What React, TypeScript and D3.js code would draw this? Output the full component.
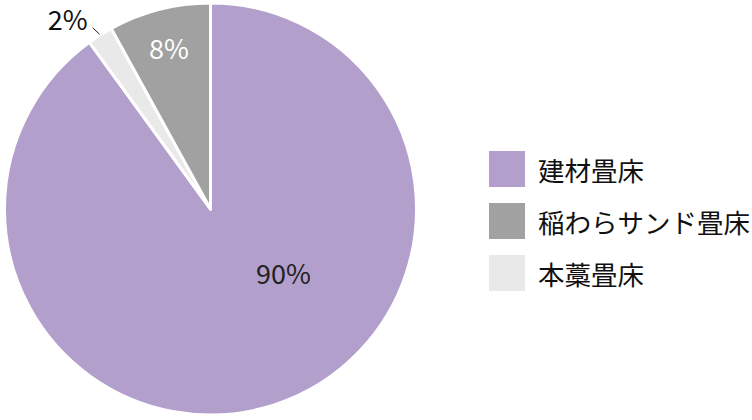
import React from "react";
import * as d3 from "d3";

const categories = ["建材畳床", "稲わらサンド畳床", "本藁畳床"];
const values = [90, 8, 2];
const colors = ["#b39fcb", "#a0a1a0", "#e8e9e8"];
// pie draw order (clockwise from top)
const order = [0, 2, 1];

export default function App() {
  const W = 752, H = 420;
  const cx = 210.5, cy = 209, R = 206;
  const font = "'Noto Sans CJK JP', 'Noto Sans', sans-serif";
  const data = order.map((i) => ({ name: categories[i], value: values[i], color: colors[i] }));
  const pie = d3.pie<any>().value((d) => d.value).sort(null);
  const arcs = pie(data);
  const arc = d3.arc<any>().innerRadius(0).outerRadius(R);
  const mid = (a: any) => (a.startAngle + a.endAngle) / 2;
  const pt = (ang: number, r: number) => [Math.sin(ang) * r, -Math.cos(ang) * r];

  return (
    <svg width={W} height={H} style={{ position: "absolute", left: 0, top: 0 }} fontFamily={font}>
      <rect width={W} height={H} fill="#fff" />
      <g transform={`translate(${cx},${cy})`}>
        {arcs.map((a, i) => (
          <path key={i} d={arc(a) as string} fill={a.data.color} stroke="#fff" strokeWidth={3} strokeLinejoin="round" />
        ))}
        {arcs.map((a, i) => {
          const m = mid(a);
          if (a.data.value === 90) {
            return (
              <text key={"l" + i} x={73} y={63} textAnchor="middle" dominantBaseline="central" fontSize={27} fill="#222">
                {a.data.value}%
              </text>
            );
          }
          if (a.data.value === 8) {
            const [x, y] = pt(m, R * 0.81);
            return (
              <text key={"l" + i} x={x} y={y} textAnchor="middle" dominantBaseline="central" fontSize={27} fill="#fff">
                {a.data.value}%
              </text>
            );
          }
          const [x1, y1] = pt(m, R + 1);
          const x2 = x1 - 7, y2 = y1 - 6.5;
          return (
            <g key={"l" + i}>
              <line x1={x1} y1={y1} x2={x2} y2={y2} stroke="#222" strokeWidth={1} />
              <text x={x2 - 5} y={y2 - 9} textAnchor="end" dominantBaseline="central" fontSize={27} fill="#111">
                {a.data.value}%
              </text>
            </g>
          );
        })}
      </g>
      <g transform="translate(489,151)">
        {categories.map((c, i) => (
          <g key={c} transform={`translate(0,${i * 52})`}>
            <rect width={36} height={36} fill={colors[i]} />
            <text x={49} y={18} dominantBaseline="central" fontSize={26.5} fill="#111">
              {c}
            </text>
          </g>
        ))}
      </g>
    </svg>
  );
}
